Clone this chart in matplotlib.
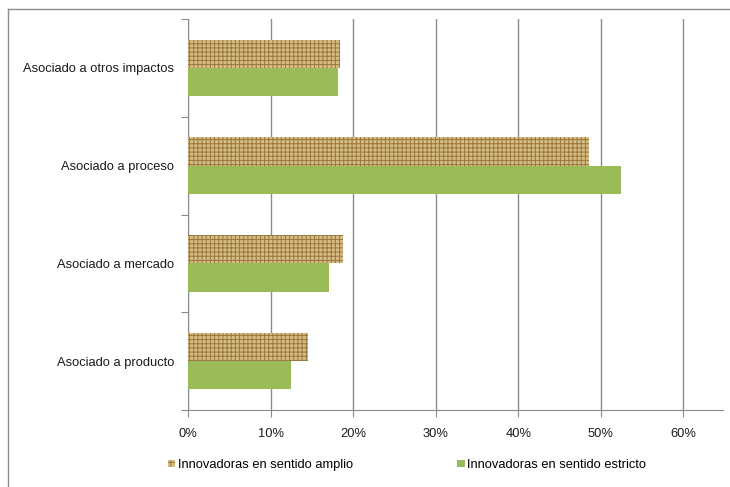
import matplotlib.pyplot as plt
from matplotlib.ticker import PercentFormatter
from matplotlib.patches import Patch
import matplotlib.lines as mlines

plt.rcParams['font.family'] = ['Liberation Sans', 'DejaVu Sans']
plt.rcParams['hatch.linewidth'] = 0.7

categorias = ['Asociado a producto', 'Asociado a mercado',
              'Asociado a proceso', 'Asociado a otros impactos']
amplio = [14.5, 18.8, 48.6, 18.4]
estricto = [12.5, 17.1, 52.5, 18.2]
series = ['Innovadoras en sentido amplio', 'Innovadoras en sentido estricto']

fig = plt.figure(figsize=(7.3, 4.87), dpi=100)
ax = fig.add_axes([188 / 730, 1 - 410 / 487, (723 - 188) / 730, (410 - 19) / 487])

pos = range(len(categorias))
h = 0.29
c_amp = '#d6bb82'
c_est = '#9bbb59'

ax.barh([p + h / 2 for p in pos], amplio, height=h, color=c_amp,
        edgecolor='#98773f', hatch='++++', linewidth=0, zorder=3)
ax.barh([p - h / 2 for p in pos], estricto, height=h, color=c_est,
        linewidth=0, zorder=3)

ax.set_xlim(0, 64.8)
ax.set_ylim(-0.5, len(categorias) - 0.5)
ax.set_xticks([0, 10, 20, 30, 40, 50, 60])
ax.xaxis.set_major_formatter(PercentFormatter(decimals=0))
ax.grid(axis='x', color='#8c8c8c', linewidth=1, zorder=0)

ax.set_yticks([p - 0.5 for p in range(len(categorias) + 1)])
ax.set_yticklabels([])
ax.set_yticks(list(pos), minor=True)
ax.set_yticklabels(categorias, minor=True)
ax.tick_params(axis='y', which='minor', length=0, pad=10, labelsize=9.3, labelcolor='#1a1a1a')
ax.tick_params(axis='y', which='major', length=5, color='#8c8c8c')
ax.tick_params(axis='x', length=5, color='#8c8c8c', labelsize=9.3, labelcolor='#1a1a1a', pad=8)

for s in ['top', 'right']:
    ax.spines[s].set_visible(False)
for s in ['left', 'bottom']:
    ax.spines[s].set_color('#8c8c8c')

handles = [Patch(facecolor=c_amp, edgecolor='#98773f', hatch='++', linewidth=0),
           Patch(facecolor=c_est, linewidth=0)]
fig.legend(handles, series, loc='center left', bbox_to_anchor=(168 / 730, 1 - 465 / 487),
           ncol=2, frameon=False, fontsize=9.3, handlelength=0.55, handleheight=0.55,
           handletextpad=0.2, columnspacing=8.1, borderaxespad=0, borderpad=0)

# marco exterior del grafico
fig.add_artist(mlines.Line2D([8 / 730, 1], [1 - 9 / 487, 1 - 9 / 487], color='#8c8c8c', lw=1))
fig.add_artist(mlines.Line2D([8 / 730, 8 / 730], [0, 1 - 9 / 487], color='#8c8c8c', lw=1))

fig.savefig('out.png', dpi=100)
